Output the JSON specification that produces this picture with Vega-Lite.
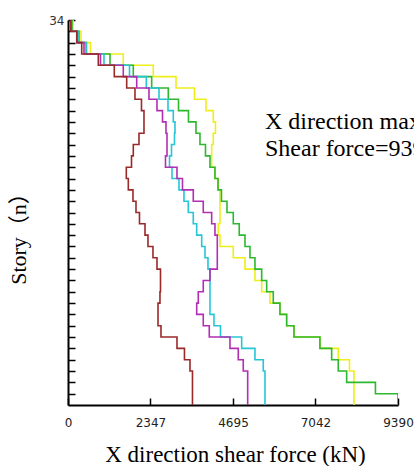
{
  "$schema": "https://vega.github.io/schema/vega-lite/v6.json",
  "width": 330,
  "height": 385,
  "autosize": {"type": "none"},
  "padding": {"left": 68, "top": 20, "right": 16, "bottom": 61},
  "background": "white",
  "config": {"view": {"stroke": null}},
  "datasets": {
    "shear": [
      {"f": 0, "brown": 3542, "purple": 5113, "cyan": 5605, "green": 9390, "yellow": 8137},
      {"f": 1, "brown": 3542, "purple": 5113, "cyan": 5605, "green": 8748, "yellow": 8137},
      {"f": 2, "brown": 3542, "purple": 5113, "cyan": 5605, "green": 7929, "yellow": 8137},
      {"f": 3, "brown": 3471, "purple": 4987, "cyan": 5556, "green": 7690, "yellow": 8009},
      {"f": 4, "brown": 3314, "purple": 4845, "cyan": 5320, "green": 7502, "yellow": 7690},
      {"f": 5, "brown": 3101, "purple": 4609, "cyan": 4942, "green": 7169, "yellow": 7169},
      {"f": 6, "brown": 2646, "purple": 4020, "cyan": 4339, "green": 6430, "yellow": 6430},
      {"f": 7, "brown": 2561, "purple": 3849, "cyan": 4154, "green": 6222, "yellow": 6222},
      {"f": 8, "brown": 2561, "purple": 3662, "cyan": 4040, "green": 6031, "yellow": 6031},
      {"f": 9, "brown": 2617, "purple": 3707, "cyan": 4040, "green": 5841, "yellow": 5747},
      {"f": 10, "brown": 2632, "purple": 3849, "cyan": 4040, "green": 5653, "yellow": 5511},
      {"f": 11, "brown": 2632, "purple": 4040, "cyan": 4040, "green": 5511, "yellow": 5320},
      {"f": 12, "brown": 2532, "purple": 4248, "cyan": 3983, "green": 5320, "yellow": 5036},
      {"f": 13, "brown": 2418, "purple": 4248, "cyan": 3898, "green": 5178, "yellow": 4703},
      {"f": 14, "brown": 2276, "purple": 4248, "cyan": 3804, "green": 5036, "yellow": 4324},
      {"f": 15, "brown": 2191, "purple": 4182, "cyan": 3662, "green": 4873, "yellow": 4276},
      {"f": 16, "brown": 2034, "purple": 4088, "cyan": 3565, "green": 4703, "yellow": 4324},
      {"f": 17, "brown": 1935, "purple": 3849, "cyan": 3423, "green": 4524, "yellow": 4324},
      {"f": 18, "brown": 1849, "purple": 3565, "cyan": 3300, "green": 4367, "yellow": 4324},
      {"f": 19, "brown": 1716, "purple": 3258, "cyan": 3158, "green": 4268, "yellow": 4276},
      {"f": 20, "brown": 1659, "purple": 3101, "cyan": 2959, "green": 4182, "yellow": 4182},
      {"f": 21, "brown": 1807, "purple": 2774, "cyan": 2888, "green": 4040, "yellow": 4088},
      {"f": 22, "brown": 1858, "purple": 2817, "cyan": 2945, "green": 3912, "yellow": 4088},
      {"f": 23, "brown": 2020, "purple": 2817, "cyan": 3030, "green": 3755, "yellow": 4134},
      {"f": 24, "brown": 2162, "purple": 2788, "cyan": 3044, "green": 3642, "yellow": 4196},
      {"f": 25, "brown": 2162, "purple": 2689, "cyan": 2996, "green": 3428, "yellow": 4134},
      {"f": 26, "brown": 2091, "purple": 2532, "cyan": 2845, "green": 3144, "yellow": 3926},
      {"f": 27, "brown": 1906, "purple": 2304, "cyan": 2589, "green": 2854, "yellow": 3599},
      {"f": 28, "brown": 1670, "purple": 1955, "cyan": 2228, "green": 2381, "yellow": 3073},
      {"f": 29, "brown": 1317, "purple": 1573, "cyan": 1750, "green": 1858, "yellow": 2427},
      {"f": 30, "brown": 862, "purple": 925, "cyan": 1024, "green": 1195, "yellow": 1573},
      {"f": 31, "brown": 390, "purple": 455, "cyan": 512, "green": 526, "yellow": 640},
      {"f": 32, "brown": 248, "purple": 256, "cyan": 285, "green": 313, "yellow": 370},
      {"f": 33, "brown": 77, "purple": 85, "cyan": 85, "green": 114, "yellow": 142},
      {"f": 34, "brown": 77, "purple": 85, "cyan": 85, "green": 114, "yellow": 142}
    ],
    "note": [
      {"x": 5605, "y": 24.4, "t": ["X direction maximum", "Shear force=9390kN"]}
    ]
  },
  "layer": [
    {
      "data": {"name": "shear"},
      "transform": [{"fold": ["yellow", "green", "cyan", "purple", "brown"], "as": ["series", "v"]}],
      "mark": {"type": "line", "interpolate": "step-before", "strokeWidth": 1.6, "clip": true},
      "encoding": {
        "x": {
          "field": "v", "type": "quantitative",
          "scale": {"domain": [0, 9390], "nice": false, "zero": true},
          "axis": {
            "values": [0, 2347, 4695, 7042, 9390],
            "format": "d",
            "tickCount": 10,
            "title": "X direction shear force (kN)",
            "grid": false,
            "domainColor": "#000", "domainWidth": 2,
            "tickColor": "#000", "tickSize": -7, "tickWidth": 1.5,
            "labelFont": "DejaVu Sans", "labelFontSize": 12, "labelColor": "#222",
            "labelPadding": 24, "labelBaseline": "middle",
            "labelFlush": false, "labelOverlap": false,
            "titleFont": "Liberation Serif", "titleFontSize": 23, "titleFontWeight": "normal",
            "titleColor": "#000", "titleX": 167, "titleY": 56, "titleBaseline": "alphabetic", "titleAlign": "center"
          }
        },
        "y": {
          "field": "f", "type": "quantitative",
          "scale": {"domain": [0, 34], "nice": false},
          "axis": {
            "values": [1, 2, 3, 4, 5, 6, 7, 8, 9, 10, 11, 12, 13, 14, 15, 16, 17, 18, 19, 20, 21, 22, 23, 24, 25, 26, 27, 28, 29, 30, 31, 32, 33, 34],
            "tickCount": 40,
            "labelOverlap": false,
            "labelExpr": "datum.value == 34 ? '34' : ''",
            "title": "Story（n）",
            "grid": false,
            "domainColor": "#000", "domainWidth": 2,
            "tickColor": "#000", "tickSize": -7, "tickWidth": 1.5,
            "labelFont": "DejaVu Sans", "labelFontSize": 12, "labelColor": "#333",
            "labelPadding": 11, "labelFlush": false,
            "titleFont": "'Liberation Serif', 'Noto Sans CJK SC'", "titleFontSize": 22, "titleFontWeight": "normal",
            "titleColor": "#000", "titleAngle": 270, "titleX": -50, "titleY": 213,
            "titleAlign": "center", "titleBaseline": "middle"
          }
        },
        "order": {"field": "f", "type": "quantitative"},
        "color": {
          "field": "series", "type": "nominal",
          "scale": {
            "domain": ["yellow", "green", "cyan", "purple", "brown"],
            "range": ["#EEEE1A", "#2DB82D", "#26C6D6", "#B22EB2", "#9A2A2A"]
          },
          "legend": null
        }
      }
    },
    {
      "data": {"name": "note"},
      "mark": {"type": "text", "align": "left", "baseline": "alphabetic", "font": "Liberation Serif", "fontSize": 24, "lineHeight": 27, "color": "#000"},
      "encoding": {
        "x": {"field": "x", "type": "quantitative"},
        "y": {"field": "y", "type": "quantitative"},
        "text": {"field": "t"}
      }
    }
  ]
}
